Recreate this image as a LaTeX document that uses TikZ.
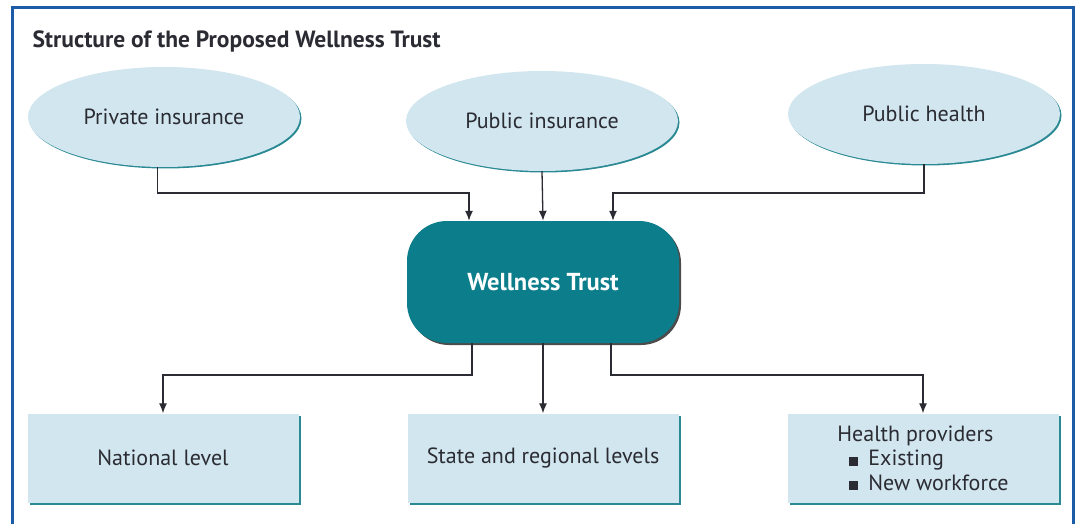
\documentclass[tikz,border=0pt]{standalone}
\usepackage{fontspec}
\setmainfont{PT Sans}
\usetikzlibrary{shapes.geometric, positioning, arrows, arrows.meta, shadows}

\definecolor{paleblue}{HTML}{D1E6EE}
\definecolor{trustteal}{HTML}{0B7D8B}
\definecolor{rimteal}{HTML}{2A8993}
\definecolor{frameblue}{HTML}{1B5BA8}
\definecolor{inkgray}{HTML}{2B2B33}

\tikzset{
  source/.style={ellipse, fill=paleblue, text=inkgray, minimum width=272pt, minimum height=100pt,
    drop shadow={shadow xshift=1.5pt, shadow yshift=-1.5pt, fill=rimteal, opacity=1}},
  level/.style={rectangle, fill=paleblue, text=inkgray, minimum width=271pt, minimum height=89pt,
    drop shadow={shadow xshift=2pt, shadow yshift=-2pt, fill=rimteal, opacity=1}},
  trust/.style={rectangle, rounded corners=40pt, fill=trustteal, text=white, minimum width=272pt,
    minimum height=122pt, font=\bfseries\fontsize{24.5}{29}\selectfont,
    drop shadow={shadow xshift=2pt, shadow yshift=-2pt, fill=black!70, opacity=1}},
  link/.style={-{Latex[length=10pt, width=8pt]}, line width=1.3pt, draw=inkgray},
}

\begin{document}
\begin{tikzpicture}[x=1pt, y=-1pt, font=\fontsize{22}{24.5}\selectfont]
    \useasboundingbox (0,0) rectangle (1079,524);
    % frame, open at the bottom
    \draw[frameblue, line width=3pt] (12,530) -- (12,8) -- (1073,8) -- (1073,530);
    \node[anchor=base west, text=inkgray, font=\bfseries\fontsize{23.5}{28}\selectfont] (title) at (29,48)
    {Structure of the Proposed Wellness Trust};
    %
    \node[source] (privins) at (164,117) {Private insurance};
    \node[source] (pubins) at (542,121) {Public insurance};
    \node[source] (pubhealth) at (924,114) {Public health};
    %
    \node[trust] (trust) at (543,282) {Wellness Trust};
    %
    \node[level] (national) at (163,458) {National level};
    \node[level] (state) at (543,458) {State and regional levels};
    \node[level, align=left] (providers) at (923,458)
    {Health providers\\
     \hspace*{12pt}\rule{9pt}{9pt}\hspace{10pt}Existing\\
     \hspace*{12pt}\rule{9pt}{9pt}\hspace{10pt}New workforce};
    %
    \coordinate (inleft) at (469,193);
    \coordinate (inright) at (613,193);
    \draw[link] (privins.-97) |- (inleft) -- (inleft |- trust.north);
    \draw[link] (pubins.south) -- (trust.north);
    \draw[link] (pubhealth.south) |- (inright) -- (inright |- trust.north);
    %
    \coordinate (outleft) at (472,375);
    \coordinate (outright) at (611,375);
    \draw[link] (outleft |- trust.south) -- (outleft) -| (national.north);
    \draw[link] (trust.south) -- (state.north);
    \draw[link] (outright |- trust.south) -- (outright) -| (providers.north);
  \end{tikzpicture}
\end{document}
